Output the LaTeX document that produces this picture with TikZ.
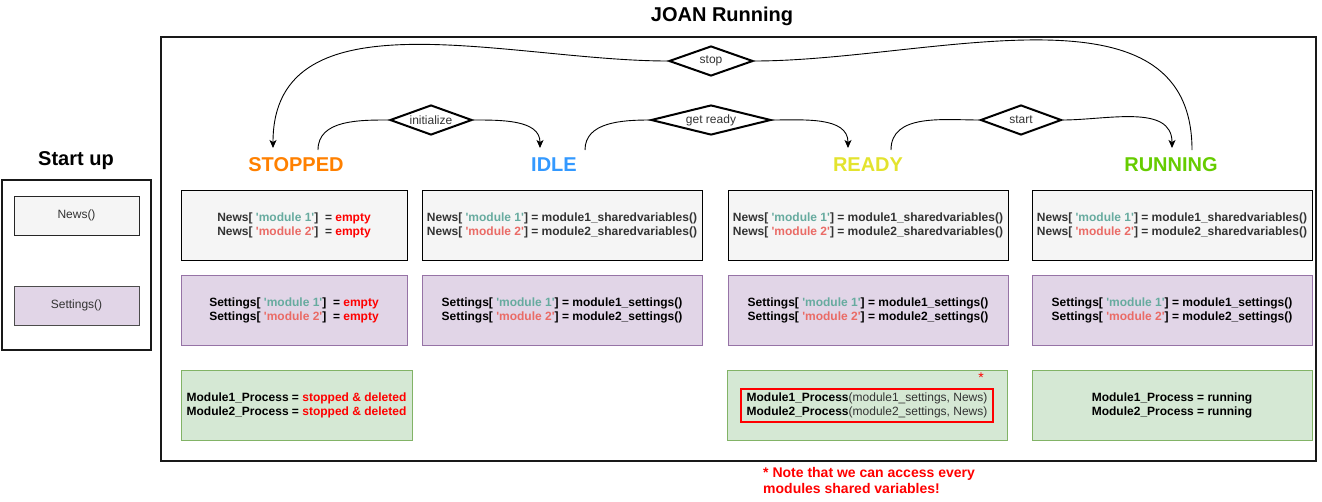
\documentclass[tikz,border=0pt]{standalone}
\usepackage{fontspec}
\setmainfont{Liberation Sans}
\usetikzlibrary{shapes.geometric,arrows.meta}

\definecolor{newsfill}{HTML}{F5F5F5}
\definecolor{setfill}{HTML}{E1D5E7}
\definecolor{setline}{HTML}{9673A6}
\definecolor{procfill}{HTML}{D5E8D4}
\definecolor{procline}{HTML}{82B366}
\definecolor{modone}{HTML}{67AB9F}
\definecolor{modtwo}{HTML}{EA6B66}
\definecolor{txtgray}{HTML}{333333}
\definecolor{stoppedc}{HTML}{FF8000}
\definecolor{idlec}{HTML}{3399FF}
\definecolor{readyc}{HTML}{E3E32E}
\definecolor{runningc}{HTML}{66CC00}
\definecolor{errred}{HTML}{FF0000}

\newcommand{\modA}{\textcolor{modone}{\textquotesingle module 1\textquotesingle}}
\newcommand{\modB}{\textcolor{modtwo}{\textquotesingle module 2\textquotesingle}}

\tikzset{
  frame/.style={draw=black!90, line width=2pt},
  heading/.style={font=\fontsize{20}{22}\selectfont\bfseries},
  statelbl/.style={font=\fontsize{20}{22}\selectfont\bfseries, inner sep=0pt},
  box/.style={rectangle, minimum height=70pt, align=center, inner sep=0pt,
    font=\fontsize{12}{14}\selectfont\bfseries},
  newsbox/.style={box, draw=black, fill=newsfill, text=txtgray},
  setbox/.style={box, draw=setline, fill=setfill, text=black},
  procbox/.style={box, draw=procline, fill=procfill, text=black},
  initbox/.style={rectangle, minimum width=125pt, minimum height=39pt,
    font=\fontsize{12}{14}\selectfont, text=txtgray},
  choice/.style={diamond, draw=black, line width=2pt, minimum height=30pt,
    inner sep=0pt, font=\fontsize{12}{14}\selectfont, text=txtgray},
  flow/.style={draw=black, line width=0.9pt},
  tip/.style={-{Stealth[length=8pt,width=7pt,inset=2pt]}},
}

\begin{document}
\begin{tikzpicture}[x=1pt,y=-1pt]
  \useasboundingbox (0,0) rectangle (1322,501);

  % start up
  \node[heading] (startup-title) at (76,161) {Start up};
  \draw[frame] (2,180) rectangle (151,350);
  \node[initbox, draw=black!85, fill=newsfill] (news-init) at (76.5,215.5) {News()};
  \node[initbox, draw=black!70, fill=setfill] (set-init) at (76.5,305.5) {Settings()};

  % joan running
  \node[heading] (joan-title) at (722,16) {JOAN Running};
  \draw[frame] (161,37) rectangle (1316,461);

  \foreach \n/\t/\c/\x in {stopped/STOPPED/stoppedc/296, idle/IDLE/idlec/554,
      ready/READY/readyc/868, running/RUNNING/runningc/1171}{
    \node[statelbl, text=\c] (\n) at (\x,165) {\t};
  }

  % stopped column
  \node[newsbox, minimum width=226pt] (news-stopped) at (294,225)
    {News[ \modA]~ = \textcolor{errred}{empty}\\News[ \modB]~ = \textcolor{errred}{empty}};
  \node[setbox, minimum width=226pt] (set-stopped) at (294,310)
    {Settings[ \modA]~ = \textcolor{errred}{empty}\\Settings[ \modB]~ = \textcolor{errred}{empty}};
  \node[procbox, minimum width=231pt] (proc-stopped) at (296.5,405)
    {Module1\_Process = \textcolor{errred}{stopped \& deleted}\\Module2\_Process = \textcolor{errred}{stopped \& deleted}};

  % idle, ready, running columns
  \foreach \n/\x in {idle/562, ready/868, running/1172}{
    \node[newsbox, minimum width=280pt] (news-\n) at (\x,225)
      {News[ \modA] = module1\_sharedvariables()\\News[ \modB] = module2\_sharedvariables()};
    \node[setbox, minimum width=280pt] (set-\n) at (\x,310)
      {Settings[ \modA] = module1\_settings()\\Settings[ \modB] = module2\_settings()};
  }
  \node[procbox, minimum width=280pt] (proc-ready) at (867,405) {};
  \node[draw=errred, line width=1.5pt, minimum width=252pt, minimum height=33pt,
    inner sep=0pt, align=left, font=\fontsize{12}{14}\selectfont\bfseries]
    (proc-ready-call) at (867,405.5)
    {Module1\_Process{\mdseries\color{txtgray}(module1\_settings, News)}\\
     Module2\_Process{\mdseries\color{txtgray}(module2\_settings, News)}};
  \node[text=errred, font=\fontsize{14}{16}\selectfont, inner sep=0pt] (star) at (981,378) {*};
  \node[procbox, minimum width=280pt] (proc-running) at (1172,405)
    {Module1\_Process = running\\Module2\_Process = running};

  \node[anchor=north west, align=left, inner sep=0pt, text=errred,
    font=\fontsize{14}{16}\selectfont\bfseries] (note) at (763,467)
    {* Note that we can access every\\modules shared variables!};

  % transitions
  \node[choice, minimum width=84pt, aspect=2.8] (stop) at (711,61) {stop};
  \node[choice, minimum width=82pt, aspect=2.7] (initialize) at (431,120) {initialize};
  \node[choice, minimum width=120pt, aspect=4] (getready) at (711,120) {get ready};
  \node[choice, minimum width=81pt, aspect=2.7] (start) at (1021,120) {start};

  \coordinate (stopped-in) at (273,148);
  \coordinate (stopped-out) at (318,150);
  \coordinate (idle-in) at (540,148);
  \coordinate (idle-out) at (585,150);
  \coordinate (ready-in) at (848,148);
  \coordinate (ready-out) at (891,150);
  \coordinate (running-in) at (1172,148);
  \coordinate (running-out) at (1192,150);

  \draw[flow] (stopped-out) to[out=90,in=180] (initialize.west);
  \draw[flow,tip] (initialize.east) to[out=0,in=90] (idle-in);
  \draw[flow] (idle-out) to[out=90,in=180] (getready.west);
  \draw[flow,tip] (getready.east) to[out=0,in=90] (ready-in);
  \draw[flow] (ready-out) to[out=90,in=180] (start.west);
  \draw[flow,tip] (start.east) to[out=0,in=90] (running-in);
  \draw[flow] (running-out) to[out=90,in=0] (stop.east);
  \draw[flow,tip] (stop.west) to[out=180,in=90] (stopped-in);
\end{tikzpicture}
\end{document}
